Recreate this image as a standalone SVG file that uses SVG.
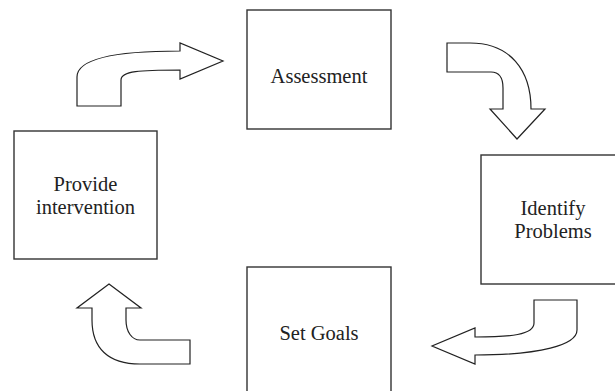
<svg xmlns="http://www.w3.org/2000/svg" width="615" height="391" viewBox="0 0 615 391">
<style>
.box{fill:#fff;stroke:#333;stroke-width:1.4}
.arr{fill:#fff;stroke:#222;stroke-width:1.2;stroke-linejoin:miter}
.t{font-family:"Liberation Serif","Times New Roman",serif;font-size:20.5px;fill:#222;text-anchor:middle}
</style>
<rect width="615" height="391" fill="#fff"/>
<g id="assessment">
<rect class="box" x="247" y="10" width="144" height="119"/>
<text class="t" x="319" y="83">Assessment</text>
</g>
<g id="identify-problems">
<rect class="box" x="481" y="155" width="144" height="129"/>
<text class="t" x="553" y="215">Identify</text>
<text class="t" x="553" y="238">Problems</text>
</g>
<g id="set-goals">
<rect class="box" x="247" y="267" width="144" height="130"/>
<text class="t" x="319" y="340">Set Goals</text>
</g>
<g id="provide-intervention">
<rect class="box" x="14" y="131" width="143" height="128"/>
<text class="t" x="85.5" y="191">Provide</text>
<text class="t" x="85.5" y="214">intervention</text>
</g>
<g id="connectors">
<path class="arr" d="M77,106 L77,77 C77,60 110,51 180,51 L180,43 L223,61 L180,79 L180,70 C140,70 121,71 121,80 L121,106 Z"/>
<path class="arr" d="M447,43 L447,72 L491,72 C500,72 503,78 503,88 L503,109 L490,109 L517,139 L545,109 L531,109 C531,70 510,43 470,43 Z"/>
<path class="arr" d="M534,300 L577,300 L577,330 C577,345 540,355 475,355 L475,364 L432,346 L475,328 L475,337 C510,337 534,335 534,323 Z"/>
<path class="arr" d="M109,284 L141,308 L126,308 L126,320 C126,332 132,340 140,340 L190,340 L190,364 L140,364 C108,364 92,348 92,320 L92,308 L77,308 Z"/>
</g>
</svg>
